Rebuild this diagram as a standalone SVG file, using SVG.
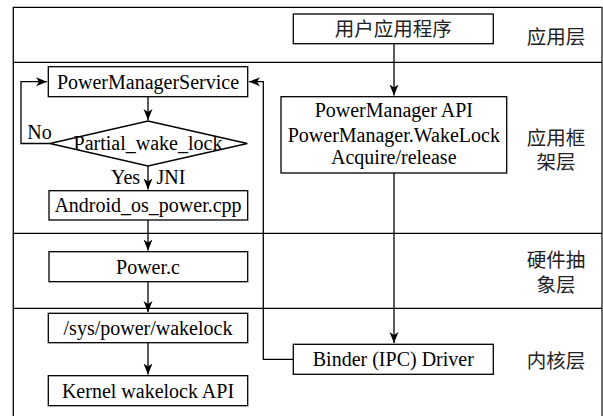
<svg xmlns="http://www.w3.org/2000/svg" width="603" height="416" viewBox="0 0 603 416">
<style>
.box{fill:#fff;stroke:#000;stroke-width:1.3}
.ln{fill:none;stroke:#000;stroke-width:1.3}
.t{font-family:"Liberation Serif","Noto Sans CJK SC",serif;font-size:20px;fill:#000;text-anchor:middle}
.c{font-family:"Liberation Serif","Noto Sans CJK SC",serif;font-size:19.5px;fill:#222;text-anchor:middle}
</style>
<defs>
<marker id="ah" markerUnits="userSpaceOnUse" markerWidth="12" markerHeight="10" viewBox="0 0 12 10" refX="11" refY="5" orient="auto">
<path d="M0,0.5 L11,5 L0,9.5 L3,5 z" fill="#000"/>
</marker>
</defs>
<g id="frame">
<path class="ln" d="M13.3,416 V7.3 H602 V416"/>
<path d="M602,7.3 V416" stroke="#777" stroke-width="1.3" fill="none"/>
<path class="ln" d="M13.3,62.3 H602 M13.3,233.3 H602 M13.3,308.3 H602"/>
</g>
<g id="layer-labels">
<text class="c" x="556" y="43.5">应用层</text>
<text class="c" x="556" y="145">应用框</text>
<text class="c" x="556" y="168.5">架层</text>
<text class="c" x="556" y="267">硬件抽</text>
<text class="c" x="556" y="292">象层</text>
<text class="c" x="556" y="367.5">内核层</text>
</g>
<g id="connectors">
<path class="ln" d="M394,43.7 V95.5" marker-end="url(#ah)"/>
<path class="ln" d="M394,173 V343" marker-end="url(#ah)"/>
<path class="ln" d="M293.3,359.3 H263.3 V81.7 H249" marker-end="url(#ah)"/>
<path class="ln" d="M148,96.7 V120" marker-end="url(#ah)"/>
<path class="ln" d="M50,143.5 H21 V81.7 H47" marker-end="url(#ah)"/>
<path class="ln" d="M148,166 V189.5" marker-end="url(#ah)"/>
<path class="ln" d="M148,220 V250.5" marker-end="url(#ah)"/>
<path class="ln" d="M148,281.7 V312" marker-end="url(#ah)"/>
<path class="ln" d="M148,342.7 V374.5" marker-end="url(#ah)"/>
<text class="t" x="39.5" y="139.3">No</text>
<text class="t" x="125.5" y="184.3">Yes</text>
<text class="t" x="171" y="184.3">JNI</text>
</g>
<g id="user-app">
<rect class="box" x="293.3" y="14" width="200" height="29.7"/>
<text class="c" x="393.3" y="36">用户应用程序</text>
</g>
<g id="pm-api">
<rect class="box" x="281" y="96.7" width="225.7" height="76.3"/>
<text class="t" x="393.8" y="117">PowerManager API</text>
<text class="t" x="393.8" y="141.5">PowerManager.WakeLock</text>
<text class="t" x="393.8" y="164">Acquire/release</text>
</g>
<g id="pms">
<rect class="box" x="48.3" y="66.7" width="199.4" height="30"/>
<text class="t" x="148" y="88.5">PowerManagerService</text>
</g>
<g id="partial-wake-lock">
<polygon class="box" points="148,121 247.3,143.5 148,166 50,143.5"/>
<text class="t" x="148" y="149.5">Partial_wake_lock</text>
</g>
<g id="android-os-power">
<rect class="box" x="49" y="190.7" width="198.7" height="29.3"/>
<text class="t" x="148" y="212">Android_os_power.cpp</text>
</g>
<g id="power-c">
<rect class="box" x="49" y="251.7" width="198.7" height="30"/>
<text class="t" x="148" y="273.5">Power.c</text>
</g>
<g id="sys-power-wakelock">
<rect class="box" x="48.3" y="313.3" width="199.4" height="29.4"/>
<text class="t" x="148" y="335">/sys/power/wakelock</text>
</g>
<g id="kernel-wakelock-api">
<rect class="box" x="48.3" y="375.7" width="199.4" height="30"/>
<text class="t" x="148" y="397.5">Kernel wakelock API</text>
</g>
<g id="binder">
<rect class="box" x="293.3" y="344.3" width="200" height="30"/>
<text class="t" x="393.3" y="366">Binder (IPC) Driver</text>
</g>
</svg>
